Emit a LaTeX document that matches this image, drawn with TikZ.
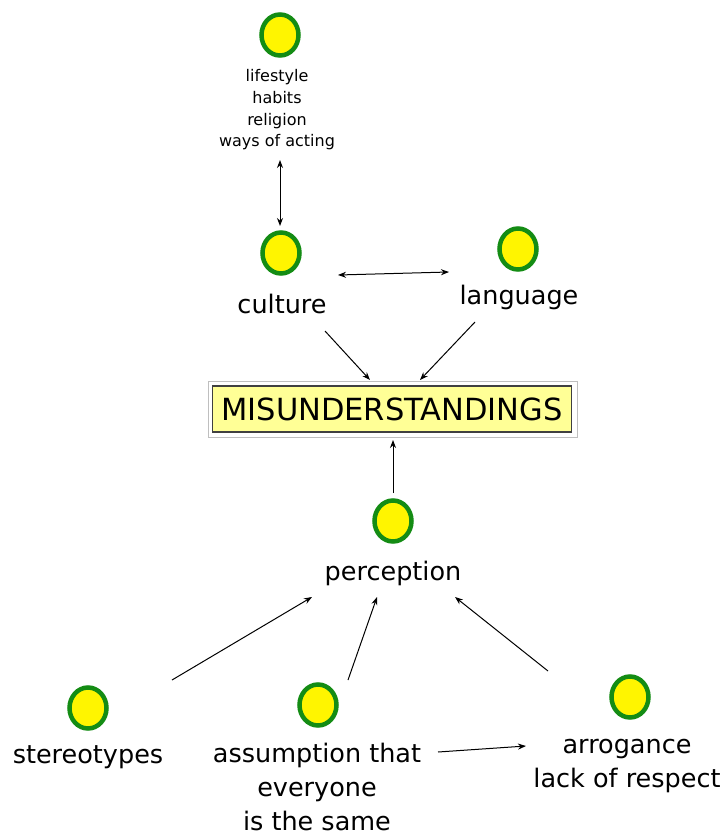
\documentclass[tikz,border=0pt]{standalone}
\usepackage{fontspec}
\setmainfont{DejaVu Sans}
\usetikzlibrary{arrows.meta,shapes.geometric}
\definecolor{ringgreen}{RGB}{20,140,20}
\definecolor{dotyellow}{RGB}{255,245,0}
\definecolor{boxyellow}{RGB}{255,255,150}
\tikzset{
  dot/.style={ellipse, draw=ringgreen, line width=4.5pt, fill=dotyellow, minimum width=37pt, minimum height=41pt, inner sep=0pt},
  lbl/.style={align=center, font=\fontsize{25.5}{34}\selectfont, inner sep=0pt},
  small/.style={align=center, font=\fontsize{16}{21.7}\selectfont, inner sep=0pt},
  arr/.style={-{Stealth[length=8pt,width=6pt]}, line width=1pt},
  darr/.style={{Stealth[length=8pt,width=6pt]}-{Stealth[length=8pt,width=6pt]}, line width=1pt}
}
\begin{document}
\begin{tikzpicture}[x=1pt,y=-1pt]
\useasboundingbox (0,0) rectangle (726,835);
% top
\node[dot] (ctop) at (280,35) {};
\node[small] (ttop) at (277,110) {lifestyle\\habits\\religion\\ways of acting};
% culture / language
\node[dot] (ccul) at (281,253) {};
\node[lbl] (tcul) at (282,304) {culture};
\node[dot] (clan) at (518,249) {};
\node[lbl] (tlan) at (519,297) {language};
% main box
\draw[black!25, line width=0.8pt, fill=white] (208,381) rectangle (577,437);
\node[draw=black!75, line width=1.1pt, fill=boxyellow, minimum width=359pt, minimum height=46pt, inner sep=0pt, font=\fontsize{30.5}{33}\selectfont] (mis) at (392,409) {MISUNDERSTANDINGS};
% perception
\node[dot] (cper) at (393,521) {};
\node[lbl] (tper) at (393,573) {perception};
% bottom
\node[dot] (cste) at (88,708) {};
\node[lbl] (tste) at (88,757) {stereotypes};
\node[dot] (cass) at (318,705) {};
\node[lbl] (tass) at (317,787) {assumption that\\everyone\\is the same};
\node[dot] (carr) at (630,697) {};
\node[lbl] (tarr) at (627,766) {arrogance\\lack of respect};
% connectors
\coordinate (a1) at (280,160); \coordinate (a2) at (280,226);
\draw[darr] (a1) -- (a2);
\coordinate (b1) at (338,275); \coordinate (b2) at (449,272);
\draw[darr] (b1) -- (b2);
\coordinate (c1) at (325,331); \coordinate (c2) at (370,380);
\draw[arr] (c1) -- (c2);
\coordinate (d1) at (475,322); \coordinate (d2) at (420,380);
\draw[arr] (d1) -- (d2);
\coordinate (e1) at (393,493); \coordinate (e2) at (393,440);
\draw[arr] (e1) -- (e2);
\coordinate (f1) at (172,680); \coordinate (f2) at (312,597);
\draw[arr] (f1) -- (f2);
\coordinate (g1) at (348,680); \coordinate (g2) at (377,597);
\draw[arr] (g1) -- (g2);
\coordinate (h1) at (548,671); \coordinate (h2) at (455,597);
\draw[arr] (h1) -- (h2);
\coordinate (i1) at (438,752); \coordinate (i2) at (526,746);
\draw[arr] (i1) -- (i2);
\end{tikzpicture}
\end{document}
